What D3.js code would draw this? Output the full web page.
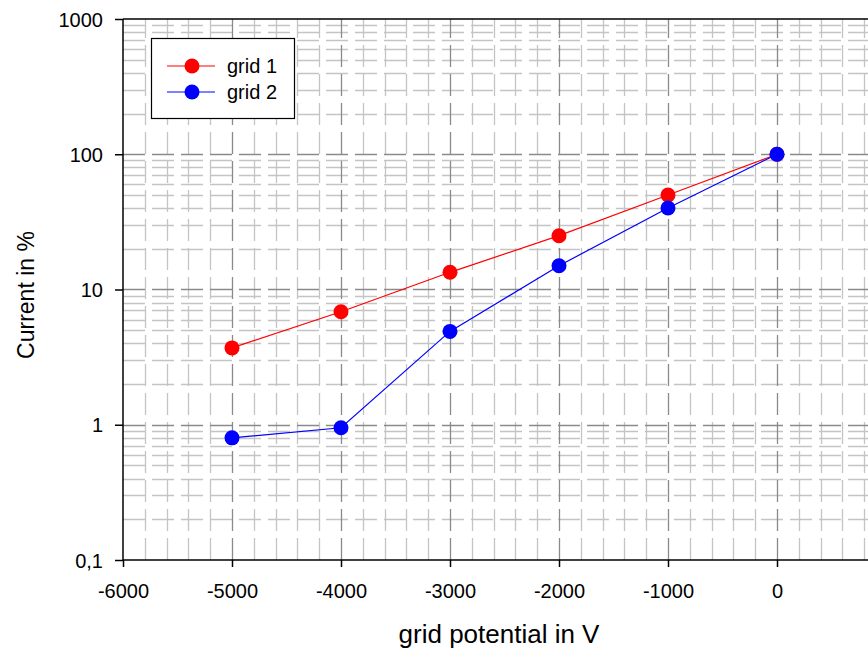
<!DOCTYPE html>
<html>
<head>
<meta charset="utf-8">
<script src="https://cdn.jsdelivr.net/npm/d3@7"></script>
<style>
  html, body { margin: 0; padding: 0; background: #fff; }
  svg { display: block; font-family: "Liberation Sans", Arial, sans-serif; }
</style>
</head>
<body>
<svg id="chart" width="868" height="652"></svg>
<script>
// Grid potential (V) and relative current (%) for both grids
const potentials = [-5000, -4000, -3000, -2000, -1000, 0];
const grid1 = [3.7, 6.85, 13.4, 25, 50, 100];
const grid2 = [0.8, 0.95, 4.9, 15, 40, 100];
const seriesNames = ["grid 1", "grid 2"];
const seriesColors = ["#ff0000", "#0000ff"];
const xTickValues = [-6000, -5000, -4000, -3000, -2000, -1000, 0];
const yTickValues = [0.1, 1, 10, 100, 1000];
const yTickLabels = ["0,1", "1", "10", "100", "1000"];

const svg = d3.select("#chart");
const margin = { left: 123, top: 19, bottom: 560 };
const plotRight = 886;
const FONT = "Liberation Sans, Arial, sans-serif";

const x = d3.scaleLinear().domain([-6000, 1000]).range([margin.left, plotRight]);
const y = d3.scaleLog().domain([0.1, 1000]).range([margin.bottom, margin.top]);

// gridlines: minor first, majors on top
const g = svg.append("g");
const xMinor = d3.range(-6000, 1001, 200).filter(v => v % 1000 !== 0);
const xMajor = d3.range(-6000, 1001, 1000).filter(v => v > -6000);
const yMinor = [];
[0.1, 1, 10, 100].forEach(d => { for (let k = 2; k <= 9; k++) yMinor.push(d * k); });
const yMajor = [1, 10, 100];

function hLines(vals, color) {
  g.selectAll(null).data(vals).enter().append("line")
    .attr("x1", margin.left).attr("x2", plotRight)
    .attr("y1", d => Math.round(y(d)) + 0.5).attr("y2", d => Math.round(y(d)) + 0.5)
    .attr("stroke", color).attr("stroke-width", 1.3)
    .attr("stroke-dasharray", "22,7");
}
function vLines(vals, color) {
  g.selectAll(null).data(vals).enter().append("line")
    .attr("x1", d => Math.round(x(d)) + 0.5).attr("x2", d => Math.round(x(d)) + 0.5)
    .attr("y1", margin.bottom).attr("y2", margin.top)
    .attr("stroke", color).attr("stroke-width", 1.3)
    .attr("stroke-dasharray", "22,7");
}
hLines(yMinor, "#c4c4c4");
vLines(xMinor, "#c4c4c4");
hLines(yMajor, "#8a8a8a");
vLines(xMajor, "#8a8a8a");

// axes
const xAxis = d3.axisBottom(x).tickValues(xTickValues).tickSize(7).tickPadding(9).tickFormat(d3.format("d"));
const gx = svg.append("g").attr("transform", `translate(0,${margin.bottom})`).call(xAxis);
gx.select(".domain").attr("stroke", "#000").attr("stroke-width", 1.5).attr("d", `M${margin.left},0H${plotRight}`);
gx.selectAll(".tick line").attr("stroke", "#000").attr("stroke-width", 1.5);
gx.selectAll(".tick text").attr("font-size", 20).attr("fill", "#000")
  .attr("font-family", FONT).attr("dy", null).attr("y", 38)
  .text(d => d < 0 ? "-" + Math.abs(d) : String(d));

const yAxis = d3.axisLeft(y).tickValues(yTickValues).tickSize(8).tickPadding(12)
  .tickFormat((d, i) => yTickLabels[i]);
const gy = svg.append("g").attr("transform", `translate(${margin.left},0)`).call(yAxis);
gy.select(".domain").attr("stroke", "#000").attr("stroke-width", 1.5).attr("d", `M0,${margin.bottom}V${margin.top}`);
gy.selectAll(".tick line").attr("stroke", "#000").attr("stroke-width", 1.5);
gy.selectAll(".tick text").attr("font-size", 20).attr("fill", "#000")
  .attr("font-family", FONT).attr("dy", "0.35em");

// top frame line
svg.append("line").attr("x1", margin.left).attr("x2", plotRight)
  .attr("y1", margin.top).attr("y2", margin.top)
  .attr("stroke", "#000").attr("stroke-width", 1.5);

// axis titles
svg.append("text").attr("x", 499).attr("y", 643).attr("text-anchor", "middle")
  .attr("font-size", 26).text("grid potential in V");
svg.append("text").attr("transform", "translate(34,295) rotate(-90)")
  .attr("text-anchor", "middle").attr("font-size", 23).text("Current in %");

// series
const allSeries = [grid1, grid2];
const line = d3.line().x((d, i) => x(potentials[i])).y(d => y(d));
allSeries.forEach((vals, s) => {
  svg.append("path").datum(vals).attr("d", line)
    .attr("fill", "none").attr("stroke", seriesColors[s]).attr("stroke-width", 1.2);
  svg.selectAll(null).data(vals).enter().append("circle")
    .attr("cx", (d, i) => x(potentials[i])).attr("cy", d => y(d)).attr("r", 7.5)
    .attr("fill", seriesColors[s]);
});

// legend
const lg = svg.append("g");
lg.append("rect").attr("x", 151.5).attr("y", 38.5).attr("width", 143).attr("height", 80)
  .attr("fill", "#fff").attr("stroke", "#000").attr("stroke-width", 1.2);
seriesNames.forEach((name, i) => {
  const yy = 66 + i * 26;
  lg.append("line").attr("x1", 167).attr("x2", 215).attr("y1", yy).attr("y2", yy)
    .attr("stroke", seriesColors[i]).attr("stroke-width", 1.2);
  lg.append("circle").attr("cx", 192).attr("cy", yy).attr("r", 7.5).attr("fill", seriesColors[i]);
  lg.append("text").attr("x", 227).attr("y", yy + 7).attr("font-size", 20).text(name);
});
</script>
</body>
</html>
